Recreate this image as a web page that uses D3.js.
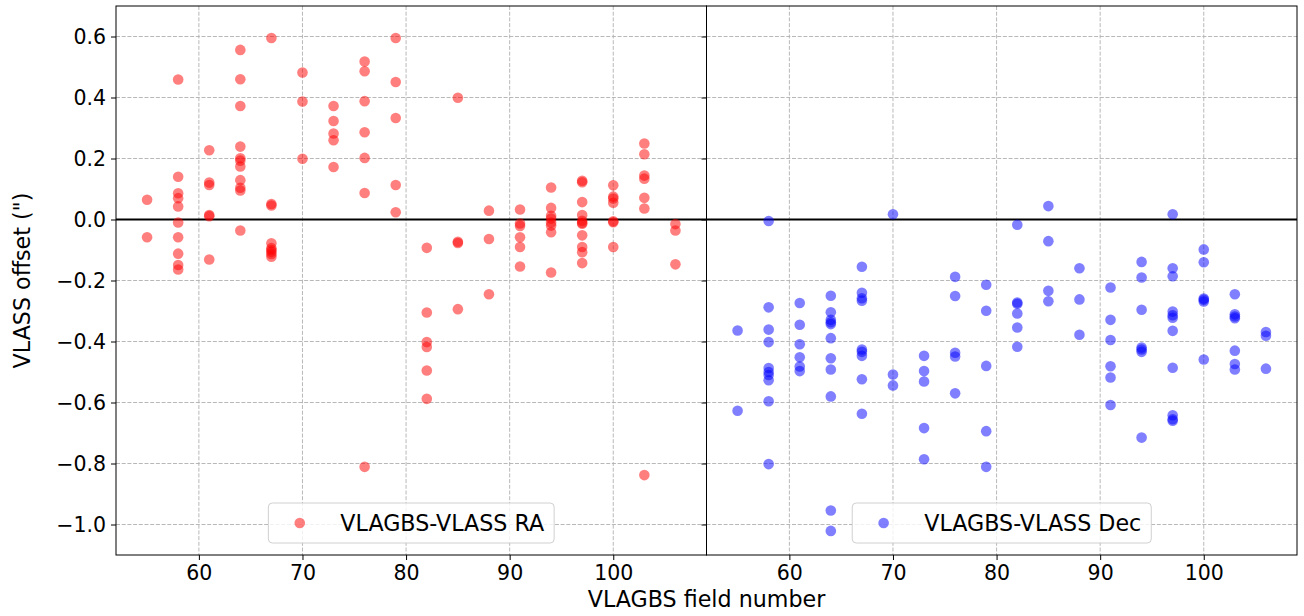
<!DOCTYPE html>
<html>
<meta charset="utf-8">
<script src="https://d3js.org/d3.v7.js"></script>
<style>
  body { margin: 0; background: #fff; }
  text { font-family: "DejaVu Sans", sans-serif; }
</style>
<body>
<div id="my_dataviz"></div>
<script type="text/javascript">
  // field numbers (x) shared by both panels
  var fields = [55, 58, 61, 64, 67, 70, 73, 76, 79, 82, 85, 88, 91, 94, 97, 100, 103, 106]

  // RA offsets per field (arcsec)
  var raOffsets = [
    [0.065, -0.058],
    [0.459, 0.140, 0.086, 0.070, 0.043, -0.010, -0.058, -0.112, -0.149, -0.164],
    [0.227, 0.121, 0.113, 0.015, 0.011, -0.131],
    [0.556, 0.460, 0.372, 0.239, 0.201, 0.193, 0.174, 0.129, 0.104, 0.095, -0.036],
    [0.595, 0.051, 0.046, -0.078, -0.094, -0.100, -0.106, -0.113, -0.122],
    [0.482, 0.387, 0.199],
    [0.372, 0.323, 0.282, 0.260, 0.172],
    [0.518, 0.486, 0.388, 0.286, 0.202, 0.087, -0.811],
    [0.595, 0.451, 0.333, 0.113, 0.024],
    [-0.093, -0.305, -0.402, -0.418, -0.495, -0.588],
    [0.399, -0.073, -0.077, -0.294],
    [0.029, -0.064, -0.245],
    [0.033, -0.013, -0.021, -0.058, -0.090, -0.154],
    [0.105, 0.038, 0.012, 0.003, -0.010, -0.020, -0.042, -0.174],
    [0.127, 0.122, 0.057, 0.015, -0.004, -0.011, -0.014, -0.052, -0.090, -0.107, -0.143],
    [0.112, 0.075, 0.069, 0.055, -0.006, -0.009, -0.090],
    [0.249, 0.214, 0.144, 0.134, 0.071, 0.036, -0.838],
    [-0.015, -0.036, -0.147]
  ]

  // Dec offsets per field (arcsec)
  var decOffsets = [
    [-0.364, -0.627],
    [-0.005, -0.288, -0.361, -0.402, -0.487, -0.500, -0.510, -0.527, -0.596, -0.802],
    [-0.274, -0.345, -0.409, -0.452, -0.482, -0.497],
    [-0.250, -0.304, -0.329, -0.337, -0.343, -0.389, -0.455, -0.492, -0.580, -0.954, -1.021],
    [-0.155, -0.240, -0.258, -0.266, -0.426, -0.434, -0.447, -0.524, -0.637],
    [0.017, -0.508, -0.544],
    [-0.447, -0.497, -0.531, -0.684, -0.786],
    [-0.188, -0.251, -0.437, -0.449, -0.570],
    [-0.214, -0.299, -0.480, -0.694, -0.811],
    [-0.017, -0.272, -0.276, -0.308, -0.354, -0.417],
    [0.044, -0.071, -0.234, -0.268],
    [-0.160, -0.262, -0.378],
    [-0.223, -0.329, -0.395, -0.481, -0.518, -0.608],
    [-0.139, -0.190, -0.296, -0.420, -0.426, -0.434, -0.715],
    [0.017, -0.160, -0.186, -0.302, -0.314, -0.322, -0.365, -0.486, -0.642, -0.655, -0.660],
    [-0.098, -0.140, -0.259, -0.263, -0.269, -0.459],
    [-0.245, -0.311, -0.318, -0.324, -0.430, -0.474, -0.492],
    [-0.369, -0.381, -0.489]
  ]

  var xTicks = [60, 70, 80, 90, 100]
  var yTicks = [0.6, 0.4, 0.2, 0.0, -0.2, -0.4, -0.6, -0.8, -1.0]

  var panels = [
    {name: "VLAGBS-VLASS RA", values: raOffsets, color: "#ff0000"},
    {name: "VLAGBS-VLASS Dec", values: decOffsets, color: "#0000ff"}
  ]

  var W = 1304, H = 616
  var margin = {top: 6, left: 116, bottom: 61}
  var pw = 590.5, ph = H - margin.top - margin.bottom

  var svg = d3.select("#my_dataviz").append("svg")
    .attr("width", W).attr("height", H)

  var x = d3.scaleLinear().domain([52, 109]).range([0, pw])
  var y = d3.scaleLinear().domain([-1.1, 0.7]).range([ph, 0])

  panels.forEach(function(p, i) {
    var g = svg.append("g")
      .attr("transform", "translate(" + (margin.left + i * pw) + "," + margin.top + ")")

    // grid
    g.selectAll(".vgrid").data(xTicks).enter().append("line")
      .attr("x1", d => x(d)).attr("x2", d => x(d))
      .attr("y1", 0).attr("y2", ph)
      .style("stroke", "#b0b0b0").style("stroke-width", 0.9)
      .style("stroke-dasharray", "4,1.7")
    g.selectAll(".hgrid").data(yTicks).enter().append("line")
      .attr("x1", 0).attr("x2", pw)
      .attr("y1", d => y(d)).attr("y2", d => y(d))
      .style("stroke", "#b0b0b0").style("stroke-width", 0.9)
      .style("stroke-dasharray", "4,1.7")

    // zero line
    g.append("line")
      .attr("x1", 0).attr("x2", pw)
      .attr("y1", y(0)).attr("y2", y(0))
      .style("stroke", "#000").style("stroke-width", 2)

    // points
    var pts = []
    p.values.forEach(function(col, j) {
      col.forEach(v => pts.push({f: fields[j], v: v}))
    })
    g.selectAll("circle.pt").data(pts).enter().append("circle")
      .attr("cx", d => x(d.f))
      .attr("cy", d => y(d.v))
      .attr("r", 5.3)
      .style("fill", p.color)
      .style("fill-opacity", 0.5)

    // axes
    var xa = g.append("g")
      .attr("transform", "translate(0," + ph + ")")
      .call(d3.axisBottom(x).tickValues(xTicks).tickSize(5).tickPadding(5).tickSizeOuter(0))
    var ya = g.append("g")
      .call(d3.axisLeft(y).tickValues(yTicks).tickFormat(d3.format(".1f")).tickSize(5).tickPadding(5).tickSizeOuter(0))
    if (i === 1) ya.selectAll("text").remove()
    ;[xa, ya].forEach(function(a) {
      a.select(".domain").remove()
      a.selectAll("text").style("font-size", "20.5px").style("fill", "#000")
        .style("font-family", "DejaVu Sans, sans-serif")
      a.selectAll("line").style("stroke", "#000")
    })

    // frame
    g.append("rect")
      .attr("x", 0).attr("y", 0).attr("width", pw).attr("height", ph)
      .style("fill", "none").style("stroke", "#000").style("stroke-width", 1)

    // legend
    var lg = g.append("g")
    var box = lg.append("rect")
      .attr("rx", 4).attr("ry", 4)
      .style("fill", "#fff").style("fill-opacity", 0.8)
      .style("stroke", "#d0d0d0").style("stroke-width", 1)
    var lt = lg.append("text")
      .attr("y", 0).attr("dy", "0.36em")
      .style("font-size", "22.2px")
      .text(p.name)
    var tw = lt.node().getComputedTextLength()
    var bw = 72 + tw + 10
    var bx = (pw - bw) / 2
    var cy = ph - 32
    box.attr("x", bx).attr("y", cy - 20).attr("width", bw).attr("height", 40)
    lt.attr("x", bx + 72).attr("y", cy)
    lg.append("circle")
      .attr("cx", bx + 31.4).attr("cy", cy).attr("r", 5.3)
      .style("fill", p.color).style("fill-opacity", 0.5)
  })

  // axis labels
  svg.append("text")
    .attr("x", margin.left + pw).attr("y", 607)
    .attr("text-anchor", "middle")
    .style("font-size", "22.2px")
    .text("VLAGBS field number")

  svg.append("text")
    .attr("transform", "translate(30," + (margin.top + ph / 2) + ") rotate(-90)")
    .attr("text-anchor", "middle")
    .style("font-size", "22.2px")
    .text("VLASS offset (\")")
</script>
</body>
</html>
